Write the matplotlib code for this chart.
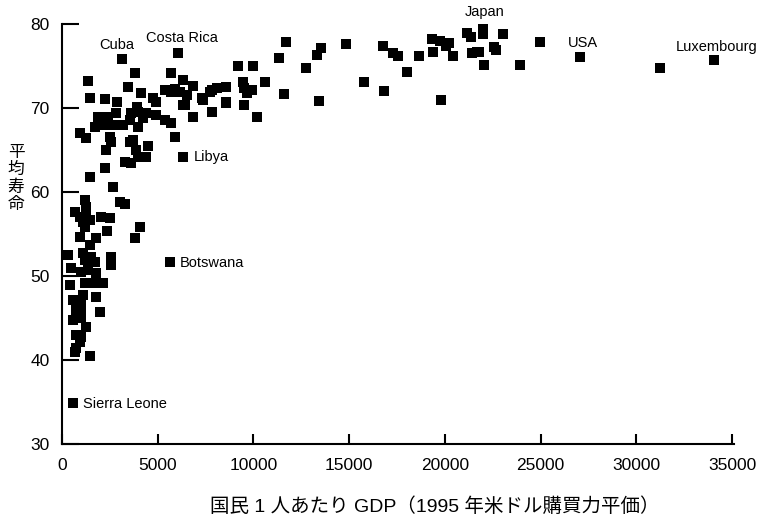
import matplotlib.pyplot as plt

plt.rcParams['font.family'] = ['Liberation Sans', 'Noto Sans CJK JP', 'DejaVu Sans']

# 国民1人あたりGDP (1995年米ドル購買力平価) と平均寿命
gdp = [
    34060, 31250, 27080, 24950, 23900, 23020, 22550, 22650, 22030, 21980,
    21980, 21140, 21350, 21770, 21410, 21670, 19320, 19740, 20210, 20050,
    19370, 20420, 18650, 17550, 17290, 16770, 18020, 19790, 14840, 15780,
    16820, 13540, 13330, 13440, 11720, 11350, 12760, 10620, 10000, 9170,
    11610, 10160, 9430, 9640, 9530, 8590, 8120, 7710, 8590, 7810,
    7340, 6820, 6040, 3120, 3800, 5680, 6300, 6820, 5890, 5360,
    5680, 6150, 6510, 7290, 7810, 9480, 9900, 8540, 6410, 6300,
    1350, 3440, 4110, 4740, 4900, 1460, 2240, 2860, 3910, 1870,
    2400, 2810, 3590, 3960, 4370, 4900, 5360, 5680, 1720, 2240,
    2760, 3180, 3540, 4220, 940, 1250, 2500, 2550, 3960, 5890,
    3540, 3700, 4480, 2290, 3850, 3960, 4370, 6300, 3280, 3590,
    2240, 1460, 2660, 1200, 1250, 3020, 3280, 680, 940, 1250,
    1090, 1460, 1200, 2030, 2500, 4060, 3800, 2340, 940, 1770,
    1460, 310, 1090, 1200, 1510, 1720, 2550, 2550, 470, 990,
    1350, 1770, 420, 1200, 1610, 2140, 570, 990, 1090, 1770,
    1980, 730, 990, 990, 1250, 570, 730, 940, 990, 730,
    680, 1460, 5620, 570,
]
esperanza = [
    75.7, 74.8, 76.1, 77.9, 75.1, 78.8, 77.3, 76.9, 75.1, 79.6,
    78.8, 78.9, 78.5, 76.7, 76.5, 76.7, 78.2, 78.0, 77.7, 77.4,
    76.7, 76.2, 76.2, 76.2, 76.5, 77.4, 74.3, 71.0, 77.6, 73.1,
    72.0, 77.1, 76.3, 70.8, 77.9, 76.0, 74.8, 73.1, 75.0, 75.0,
    71.7, 68.9, 73.1, 71.8, 70.4, 72.5, 72.4, 71.9, 70.7, 69.5,
    71.0, 68.9, 76.5, 75.8, 74.2, 74.2, 73.3, 72.6, 72.3, 72.1,
    71.9, 71.9, 71.5, 71.2, 72.1, 72.4, 72.1, 70.6, 70.4, 70.4,
    73.2, 72.5, 71.8, 71.2, 70.7, 71.2, 71.1, 70.7, 70.1, 68.9,
    68.9, 69.4, 69.4, 69.5, 69.4, 69.2, 68.6, 68.2, 67.7, 68.0,
    68.0, 68.0, 68.6, 68.8, 67.0, 66.4, 66.5, 66.0, 67.7, 66.5,
    66.0, 66.2, 65.5, 65.0, 65.0, 64.2, 64.2, 64.2, 63.6, 63.5,
    62.9, 61.8, 60.6, 59.0, 58.2, 58.8, 58.6, 57.6, 57.0, 57.0,
    56.4, 56.7, 55.8, 57.0, 56.9, 55.8, 54.5, 55.4, 54.6, 54.5,
    53.7, 52.5, 52.7, 51.9, 52.3, 51.7, 52.3, 51.3, 51.0, 50.5,
    50.7, 50.4, 48.9, 49.2, 49.2, 49.2, 47.1, 47.1, 47.7, 47.5,
    45.7, 46.0, 46.2, 45.0, 43.9, 44.8, 43.0, 42.1, 42.7, 41.4,
    40.9, 40.5, 51.7, 34.9,
]

# países con nombre: (nombre, gdp, esperanza, desplazamiento en píxeles)
etiquetas = [
    ("Cuba", 3120, 75.8, (-23, 14)),
    ("Costa Rica", 6040, 76.5, (-32, 15)),
    ("Japan", 21980, 79.6, (-18, 15)),
    ("USA", 27080, 76.1, (-13, 14)),
    ("Luxembourg", 34060, 75.7, (-38, 13)),
    ("Libya", 6300, 64.2, (11, 0)),
    ("Botswana", 5620, 51.7, (10, -1)),
    ("Sierra Leone", 570, 34.9, (10, -1)),
]

fig = plt.figure(figsize=(7.64, 5.25), dpi=100)
ax = fig.add_axes([0.0812, 0.1543, 0.8795, 0.8000])

ax.scatter(gdp, esperanza, marker="s", s=52, color="black", linewidths=0, zorder=3)

for nombre, x, y, off in etiquetas:
    ax.annotate(nombre, xy=(x, y), xytext=off, textcoords="offset pixels",
                ha="left", va="center", fontsize=10.5, annotation_clip=False)

ax.set_xlim(0, 35100)
ax.set_ylim(30, 80)
ax.set_xticks(range(0, 35001, 5000))
ax.set_yticks(range(30, 81, 10))

for lado in ("top", "right"):
    ax.spines[lado].set_visible(False)
for lado in ("left", "bottom"):
    ax.spines[lado].set_linewidth(1.5)

ax.tick_params(axis="x", direction="in", length=7, width=1.5, pad=10, labelsize=12.5)
ax.tick_params(axis="y", direction="in", length=12, width=1.5, pad=9, labelsize=12.5)

# títulos de ejes
fig.text(0.569, 0.034, "国民 1 人あたり GDP（1995 年米ドル購買力平価）",
         ha="center", va="center", fontsize=14)
fig.text(0.021, 0.66, "平\n均\n寿\n命", ha="center", va="center",
         fontsize=12, linespacing=1.15)

fig.savefig("out.png", dpi=100)
